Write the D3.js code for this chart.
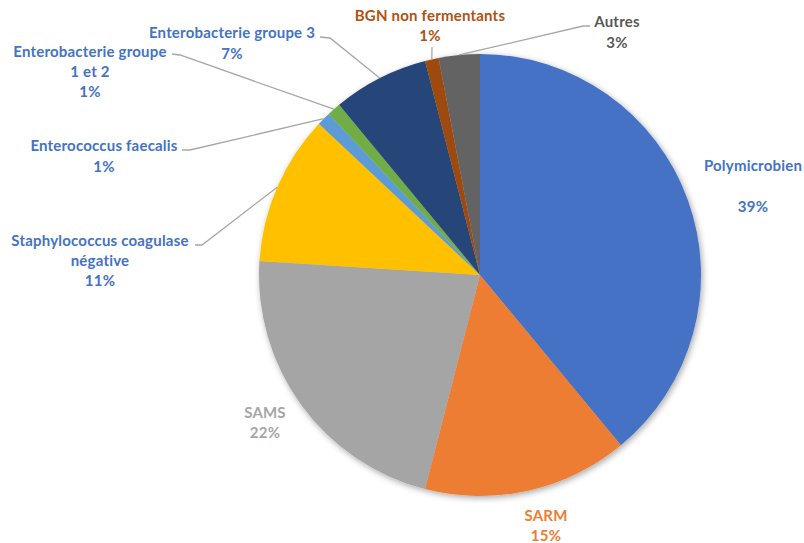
<!DOCTYPE html>
<html><head><meta charset="utf-8">
<script src="https://cdn.jsdelivr.net/npm/d3@7"></script>
<style>body{margin:0;background:#fff}svg{display:block}</style>
</head><body>
<svg id="c" width="804" height="543"></svg>
<script>
const categories = ["Polymicrobien","SARM","SAMS","Staphylococcus coagulase négative","Enterococcus faecalis","Enterobacterie groupe 1 et 2","Enterobacterie groupe 3","BGN non fermentants","Autres"];
const values = [39,15,22,11,1,1,7,1,3];
const percentLabels = ["39%","15%","22%","11%","1%","1%","7%","1%","3%"];
const labelLines = [["Polymicrobien"],["SARM"],["SAMS"],["Staphylococcus coagulase","négative"],["Enterococcus faecalis"],["Enterobacterie groupe","1 et 2"],["Enterobacterie groupe 3"],["BGN non fermentants"],["Autres"]];
const sliceColors = ["#4472C4","#ED7D31","#A5A5A5","#FFC000","#5B9BD5","#70AD47","#264478","#9E480E","#636363"];
const labelColors = ["#4472C4","#ED7D31","#A5A5A5","#4472C4","#4472C4","#4472C4","#4472C4","#B0520F","#595959"];

// layout (positions of label blocks and leader elbows)
const layout = [
  {x:753, y:166, gap:41, leader:null},
  {x:546, y:516, gap:20, leader:null},
  {x:265, y:413, gap:20, leader:null},
  {x:100, y:241, gap:20, leader:[[202,245],[195,245]]},
  {x:104, y:146, gap:21, leader:[[190,150],[182,150]]},
  {x:90,  y:52,  gap:20, leader:[[180,55],[172,54]]},
  {x:232, y:33,  gap:21, leader:[[330,38],[320,37]]},
  {x:430, y:16,  gap:20, leader:[[432,47]]},
  {x:617, y:22,  gap:21, leader:[[583,26],[590,26]]}
];

const svg = d3.select("#c");
const cx = 480, cy = 275, r = 221;

const defs = svg.append("defs");
const f = defs.append("filter").attr("id","sh").attr("x","-20%").attr("y","-20%").attr("width","140%").attr("height","140%");
f.append("feDropShadow").attr("dx",1.5).attr("dy",2).attr("stdDeviation",3).attr("flood-color","#000").attr("flood-opacity",0.35);

const data = categories.map((c,i)=>({name:c, value:values[i], i}));
const pie = d3.pie().value(d=>d.value).sort(null);
const arcs = pie(data);
const arc = d3.arc().innerRadius(0).outerRadius(r);

const g = svg.append("g").attr("transform",`translate(${cx},${cy})`);
g.append("g").attr("filter","url(#sh)")
  .selectAll("path").data(arcs).join("path")
  .attr("d",arc).attr("fill",d=>sliceColors[d.data.i]);

// leader lines
const lines = svg.append("g");
arcs.forEach((a,i)=>{
  const L = layout[i];
  if(!L.leader) return;
  const m = (a.startAngle+a.endAngle)/2;
  const p0 = [cx + r*Math.sin(m), cy - r*Math.cos(m)];
  const pts = [p0, ...L.leader];
  lines.append("path").attr("d", d3.line()(pts))
    .attr("fill","none").attr("stroke","#A6A6A6").attr("stroke-width",1.3);
});

// labels
const lab = svg.append("g").attr("font-family","Lato, 'Liberation Sans', sans-serif")
  .attr("font-weight","bold").attr("font-size","15px").attr("letter-spacing","0.2px").attr("text-anchor","middle");
data.forEach((d,i)=>{
  const L = layout[i];
  const ls = [...labelLines[i], percentLabels[i]];
  ls.forEach((t,k)=>{
    const y = (k < ls.length-1) ? L.y + k*20 : L.y + (ls.length-2)*20 + L.gap;
    lab.append("text").attr("x",L.x).attr("y",y).attr("dy","0.35em")
      .attr("fill",labelColors[i]).text(t);
  });
});
</script>
</body></html>
